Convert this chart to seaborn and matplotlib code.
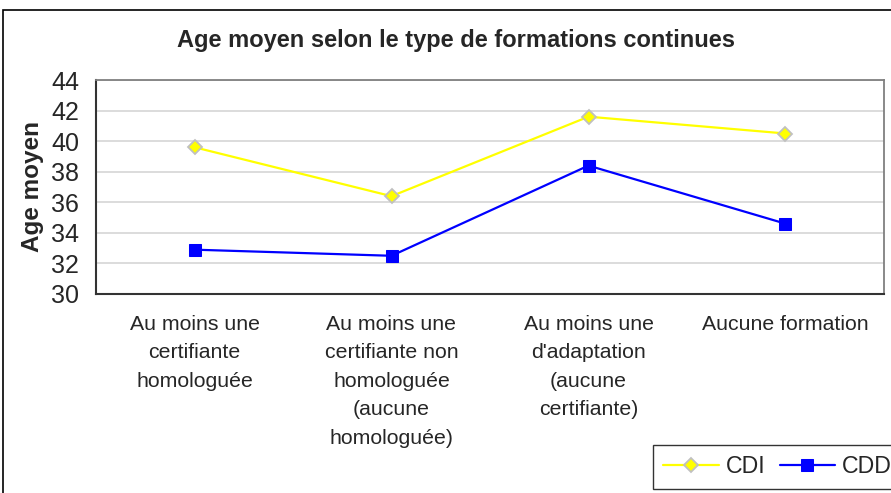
import matplotlib
matplotlib.use("Agg")
import matplotlib.pyplot as plt
import seaborn as sns
import pandas as pd
from matplotlib.patches import Rectangle

categories = [
    "Au moins une\ncertifiante\nhomologuée",
    "Au moins une\ncertifiante non\nhomologuée\n(aucune\nhomologuée)",
    "Au moins une\nd'adaptation\n(aucune\ncertifiante)",
    "Aucune formation",
]
cdi = [39.6, 36.4, 41.6, 40.5]
cdd = [32.9, 32.5, 38.4, 34.6]
y_ticks = [30, 32, 34, 36, 38, 40, 42, 44]

sns.set_style("white")
plt.rcParams["font.family"] = ["Liberation Sans", "DejaVu Sans"]

W, H = 891, 493
fig = plt.figure(figsize=(W / 100, H / 100), dpi=100)
ax = fig.add_axes([96 / W, 1 - 294 / H, (884 - 96) / W, (294 - 80) / H])

pos = list(range(len(categories)))
df = pd.DataFrame({"pos": pos * 2,
                   "age": cdi + cdd,
                   "serie": ["CDI"] * 4 + ["CDD"] * 4})

sns.lineplot(data=df[df.serie == "CDI"], x="pos", y="age", ax=ax,
             color="#ffff00", lw=1.6, marker="D", markersize=7,
             markerfacecolor="#ffff00", markeredgecolor="#c0c0c0",
             markeredgewidth=1.3, label="CDI", legend=False)
sns.lineplot(data=df[df.serie == "CDD"], x="pos", y="age", ax=ax,
             color="#0000ff", lw=1.6, marker="s", markersize=8,
             markerfacecolor="#0000ff", markeredgecolor="#0000ff",
             label="CDD", legend=False)

ax.set_xlim(-0.5, len(categories) - 0.5)
ax.set_ylim(30, 44)
ax.set_yticks(y_ticks)
ax.set_yticklabels([str(v) for v in y_ticks], fontsize=18)
ax.set_xticks(pos)
ax.set_xticklabels(categories, fontsize=15.3, linespacing=1.63)
ax.set_xticks([p - 0.5 for p in pos] + [len(categories) - 0.5], minor=True)
ax.tick_params(axis="x", which="major", length=0, pad=15)
ax.tick_params(axis="x", which="minor", length=4.3, width=1, color="#404040", direction="out")
ax.tick_params(axis="y", length=6, width=1, color="#404040", direction="out", pad=6)
ax.set_xlabel("")
ax.set_ylabel("")

ax.yaxis.grid(True, color="#d9d9d9", lw=1.3)
ax.set_axisbelow(True)
for side in ["left", "bottom"]:
    ax.spines[side].set_color("#333333")
    ax.spines[side].set_linewidth(1.5)
for side in ["top", "right"]:
    ax.spines[side].set_color("#808080")
    ax.spines[side].set_linewidth(1.3)

fig.text(456 / W, 1 - 41 / H, "Age moyen selon le type de formations continues",
         ha="center", va="center", fontsize=17, fontweight="bold")
fig.text(32 / W, 1 - 186 / H, "Age moyen", rotation=90, ha="center", va="center",
         fontsize=17.5, fontweight="bold")

# cadre du graphique
fig.patches.append(Rectangle((3 / W, -0.05), 1.0, 1 - 10 / H + 0.05,
                             transform=fig.transFigure, fill=False,
                             edgecolor="#000000", lw=1.2))

leg = fig.legend(loc="upper left", bbox_to_anchor=(653 / W, 1 - 445 / H),
                 ncol=2, fontsize=16.7, frameon=True, fancybox=False,
                 edgecolor="#000000", handlelength=2.4, handletextpad=0.3,
                 columnspacing=0.6, borderpad=0.45, borderaxespad=0)
leg.get_frame().set_linewidth(1.0)

fig.savefig("out.png", dpi=100)
